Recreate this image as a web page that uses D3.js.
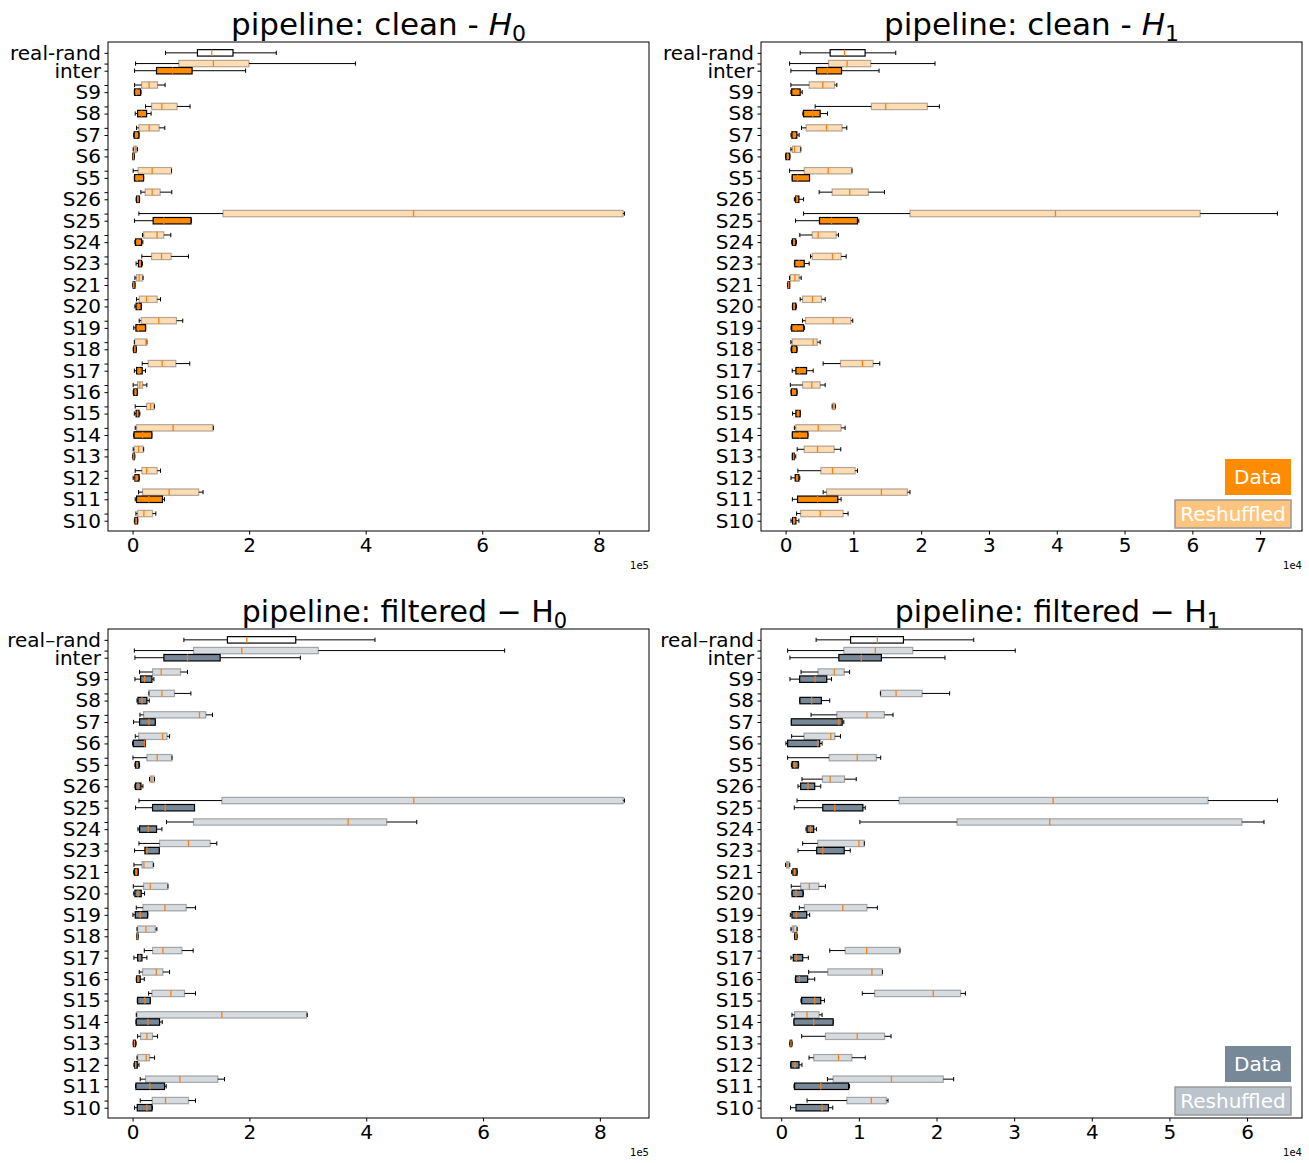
<!DOCTYPE html>
<html><head><meta charset="utf-8">
<script src="https://cdn.jsdelivr.net/npm/d3@7/dist/d3.min.js"></script>
<style>body{margin:0;background:#fff} text{font-family:"DejaVu Sans",sans-serif}</style>
</head><body><svg id="chart" width="1309" height="1163"></svg>
<script>
// categories, top to bottom (below the "real-rand" row)
const categories = ["inter","S9","S8","S7","S6","S5","S26","S25","S24","S23","S21","S20","S19","S18","S17","S16","S15","S14","S13","S12","S11","S10"];
const realRandLabel = "real-rand";
// each row: [whiskerLow, q1, median, q3, whiskerHigh] in axis units (x 1e5 or x 1e4)
const cleanH0RealRand = [0.565, 1.113, 1.358, 1.723, 2.466];
const cleanH0Data = [
 [0.034,0.411,0.685,1.021,1.94],[0.03,0.034,0.07,0.137,0.145],[0.045,0.086,0.154,0.24,0.318],[0.02,0.027,0.06,0.108,0.11],
 [0.0,0.003,0.012,0.025,0.028],[0.03,0.034,0.08,0.188,0.19],[0.06,0.07,0.09,0.115,0.12],[0.034,0.353,0.536,1.003,1.01],
 [0.04,0.05,0.09,0.154,0.176],[0.06,0.1,0.13,0.155,0.17],[0.005,0.01,0.02,0.04,0.04],[0.04,0.06,0.1,0.147,0.15],
 [0.02,0.057,0.1,0.222,0.225],[0.01,0.02,0.04,0.06,0.065],[0.03,0.068,0.11,0.165,0.222],[0.01,0.02,0.05,0.08,0.085],
 [0.03,0.06,0.085,0.11,0.125],[0.02,0.025,0.171,0.33,0.33],[0.005,0.01,0.02,0.03,0.04],[0.01,0.04,0.06,0.11,0.113],
 [0.045,0.068,0.279,0.513,0.548],[0.03,0.04,0.06,0.085,0.09]];
const cleanH0Reshuffled = [
 [0.051,0.793,1.387,1.997,3.824],[0.034,0.154,0.284,0.428,0.558],[0.222,0.325,0.502,0.764,0.986],[0.068,0.108,0.284,0.455,0.553],
 [0.01,0.02,0.05,0.07,0.085],[0.01,0.096,0.336,0.668,0.668],[0.142,0.216,0.336,0.473,0.673],[0.108,1.551,4.822,8.418,8.44],
 [0.17,0.19,0.421,0.536,0.656],[0.159,0.325,0.497,0.661,0.959],[0.04,0.068,0.113,0.171,0.18],[0.068,0.113,0.24,0.421,0.479],
 [0.113,0.147,0.45,0.753,0.861],[0.03,0.035,0.23,0.245,0.245],[0.165,0.268,0.507,0.742,0.981],[0.01,0.085,0.125,0.171,0.245],
 [0.045,0.24,0.308,0.37,0.375],[0.045,0.068,0.696,1.381,1.385],[0.01,0.03,0.103,0.182,0.19],[0.045,0.159,0.24,0.421,0.479],
 [0.103,0.171,0.627,1.135,1.209],[0.057,0.085,0.194,0.342,0.399]];

const cleanH1RealRand = [0.215, 0.657, 0.869, 1.173, 1.625];
const cleanH1Data = [
 [0.078,0.456,0.618,0.825,1.379],[0.078,0.09,0.152,0.215,0.245],[0.255,0.265,0.398,0.51,0.618],[0.08,0.093,0.127,0.166,0.2],
 [0.0,0.005,0.03,0.06,0.065],[0.098,0.098,0.177,0.353,0.353],[0.13,0.15,0.166,0.196,0.265],[0.147,0.5,0.677,1.06,1.08],
 [0.09,0.1,0.12,0.15,0.16],[0.13,0.135,0.2,0.275,0.348],[0.03,0.035,0.045,0.06,0.06],[0.1,0.105,0.125,0.15,0.16],
 [0.08,0.09,0.15,0.265,0.28],[0.08,0.09,0.12,0.165,0.17],[0.098,0.152,0.206,0.309,0.407],[0.08,0.085,0.11,0.166,0.17],
 [0.103,0.152,0.186,0.215,0.215],[0.1,0.1,0.21,0.328,0.33],[0.1,0.1,0.12,0.13,0.15],[0.08,0.142,0.17,0.196,0.21],
 [0.1,0.177,0.471,0.77,0.819],[0.08,0.103,0.12,0.152,0.196]];
const cleanH1Reshuffled = [
 [0.059,0.633,0.908,1.256,2.204],[0.078,0.348,0.549,0.722,0.756],[0.436,1.266,1.477,2.091,2.268],[0.235,0.304,0.604,0.834,0.903],
 [0.078,0.1,0.132,0.221,0.225],[0.059,0.275,0.628,0.977,0.98],[0.495,0.687,0.947,1.222,1.458],[0.265,1.835,3.981,6.116,7.255],
 [0.21,0.392,0.481,0.746,0.78],[0.368,0.392,0.692,0.819,0.893],[0.058,0.07,0.137,0.2,0.23],[0.215,0.25,0.397,0.53,0.584],
 [0.25,0.294,0.701,0.962,0.991],[0.078,0.098,0.407,0.466,0.51],[0.554,0.81,1.134,1.291,1.389],[0.07,0.25,0.387,0.51,0.584],
 [0.687,0.69,0.71,0.73,0.735],[0.13,0.15,0.481,0.819,0.878],[0.171,0.275,0.471,0.716,0.814],[0.181,0.52,0.692,1.026,1.06],
 [0.554,0.604,1.414,1.797,1.835],[0.162,0.221,0.51,0.849,0.922]];

const filteredH0RealRand = [0.878, 1.624, 1.955, 2.793, 4.15];
const filteredH0Data = [
 [0.04,0.536,0.94,1.499,2.872],[0.04,0.137,0.205,0.331,0.365],[0.075,0.092,0.16,0.245,0.285],[0.017,0.12,0.28,0.388,0.39],
 [0.0,0.012,0.205,0.217,0.217],[0.04,0.05,0.08,0.11,0.12],[0.04,0.05,0.092,0.143,0.177],[0.051,0.342,0.559,1.06,1.06],
 [0.092,0.12,0.268,0.41,0.502],[0.034,0.211,0.245,0.456,0.456],[0.02,0.03,0.063,0.097,0.1],[0.02,0.04,0.092,0.148,0.205],
 [0.006,0.046,0.131,0.257,0.26],[0.07,0.075,0.08,0.09,0.095],[0.023,0.086,0.12,0.16,0.245],[0.063,0.07,0.092,0.131,0.2],
 [0.08,0.086,0.211,0.302,0.305],[0.058,0.063,0.262,0.462,0.508],[0.01,0.015,0.03,0.05,0.06],[0.023,0.035,0.05,0.08,0.11],
 [0.051,0.058,0.297,0.547,0.576],[0.034,0.08,0.245,0.331,0.34]];
const filteredH0Reshuffled = [
 [0.029,1.043,1.87,3.18,6.37],[0.12,0.342,0.49,0.821,0.94],[0.28,0.28,0.502,0.718,0.998],[0.126,0.188,1.145,1.254,1.368],
 [0.046,0.103,0.513,0.588,0.633],[0.006,0.245,0.422,0.673,0.675],[0.29,0.3,0.331,0.37,0.375],[0.109,1.528,4.815,8.4,8.42],
 [0.581,1.043,3.69,4.35,4.865],[0.109,0.462,0.957,1.328,1.442],[0.023,0.16,0.194,0.348,0.36],[0.012,0.188,0.302,0.604,0.605],
 [0.063,0.177,0.553,0.918,1.077],[0.075,0.086,0.228,0.388,0.416],[0.2,0.342,0.519,0.844,1.037],[0.114,0.171,0.405,0.519,0.633],
 [0.274,0.331,0.656,0.889,1.077],[0.063,0.075,1.528,2.981,2.99],[0.086,0.137,0.245,0.342,0.427],[0.075,0.086,0.234,0.291,0.376],
 [0.131,0.222,0.81,1.459,1.573],[0.131,0.336,0.564,0.957,1.077]];

const filteredH1RealRand = [0.449, 0.893, 1.238, 1.574, 2.48];
const filteredH1Data = [
 [0.112,0.742,1.031,1.29,2.109],[0.112,0.237,0.436,0.586,0.647],[0.237,0.24,0.392,0.517,0.625],[0.13,0.13,0.742,0.785,0.806],
 [0.06,0.082,0.47,0.496,0.526],[0.13,0.14,0.172,0.22,0.225],[0.216,0.25,0.345,0.431,0.509],[0.168,0.535,0.69,1.052,1.082],
 [0.319,0.332,0.375,0.418,0.453],[0.216,0.457,0.535,0.811,0.889],[0.134,0.15,0.168,0.203,0.205],[0.138,0.14,0.19,0.28,0.285],
 [0.117,0.138,0.194,0.328,0.366],[0.17,0.175,0.19,0.2,0.205],[0.125,0.155,0.194,0.276,0.349],[0.181,0.185,0.233,0.34,0.431],
 [0.254,0.263,0.431,0.509,0.556],[0.164,0.164,0.418,0.668,0.67],[0.11,0.115,0.125,0.135,0.14],[0.12,0.125,0.177,0.229,0.267],
 [0.164,0.172,0.509,0.867,0.88],[0.12,0.19,0.526,0.608,0.664]];
const filteredH1Reshuffled = [
 [0.082,0.806,1.212,1.695,3.014],[0.255,0.475,0.682,0.811,0.88],[1.277,1.28,1.479,1.815,2.169],[0.384,0.716,1.104,1.328,1.44],
 [0.134,0.293,0.638,0.69,0.763],[0.082,0.617,0.979,1.225,1.281],[0.267,0.53,0.63,0.815,0.966],[0.203,1.518,3.502,5.498,6.391],
 [1.013,2.264,3.458,5.934,6.218],[0.276,0.47,1.0,1.07,1.07],[0.056,0.07,0.078,0.1,0.11],[0.129,0.25,0.362,0.483,0.569],
 [0.233,0.298,0.793,1.104,1.238],[0.125,0.14,0.16,0.2,0.205],[0.625,0.824,1.1,1.527,1.53],[0.353,0.599,1.168,1.302,1.305],
 [1.044,1.203,1.958,2.311,2.372],[0.138,0.172,0.332,0.487,0.526],[0.263,0.569,0.979,1.332,1.414],[0.358,0.418,0.737,0.91,1.082],
 [0.595,0.668,1.419,2.087,2.221],[0.332,0.845,1.16,1.354,1.375]];

const ticksH0 = [0,2,4,6,8];
const ticksCleanH1 = [0,1,2,3,4,5,6,7];
const ticksFilteredH1 = [0,1,2,3,4,5,6];
const legendLabels = ["Data","Reshuffled"];

const panels = [
 {pipe:"clean", sub:"0", italic:true, px:108, py:42, real:cleanH0RealRand, data:cleanH0Data, resh:cleanH0Reshuffled, ticks:ticksH0, exp:"1e5", color:"#ff8c00", legend:false},
 {pipe:"clean", sub:"1", italic:true, px:761, py:42, real:cleanH1RealRand, data:cleanH1Data, resh:cleanH1Reshuffled, ticks:ticksCleanH1, exp:"1e4", color:"#ff8c00", legend:true},
 {pipe:"filtered", sub:"0", italic:false, px:108, py:629, real:filteredH0RealRand, data:filteredH0Data, resh:filteredH0Reshuffled, ticks:ticksH0, exp:"1e5", color:"#778899", legend:false},
 {pipe:"filtered", sub:"1", italic:false, px:761, py:629, real:filteredH1RealRand, data:filteredH1Data, resh:filteredH1Reshuffled, ticks:ticksFilteredH1, exp:"1e4", color:"#778899", legend:true}
];

const svg = d3.select("#chart");
const W = 541, H = 489, BOXH = 0.9, CAP = 0.3;

function drawBox(g, x, y, s, pos, fill, fillOp, edge) {
  const [wl, q1, med, q3, wh] = s;
  const yc = y(pos);
  const bg = g.append("g");
  bg.append("line").attr("x1", x(wl)).attr("x2", x(q1)).attr("y1", yc).attr("y2", yc).attr("stroke", "#000").attr("stroke-width", 1);
  bg.append("line").attr("x1", x(q3)).attr("x2", x(wh)).attr("y1", yc).attr("y2", yc).attr("stroke", "#000").attr("stroke-width", 1);
  [wl, wh].forEach(v => bg.append("line").attr("x1", x(v)).attr("x2", x(v))
     .attr("y1", y(pos + CAP)).attr("y2", y(pos - CAP)).attr("stroke", "#000").attr("stroke-width", 1));
  bg.append("rect").attr("x", x(q1)).attr("width", Math.max(0.5, x(q3) - x(q1)))
    .attr("y", y(pos + BOXH / 2)).attr("height", y(pos - BOXH / 2) - y(pos + BOXH / 2))
    .attr("fill", fill).attr("fill-opacity", fillOp).attr("stroke", edge).attr("stroke-width", 1.2);
  bg.append("line").attr("x1", x(med)).attr("x2", x(med))
    .attr("y1", y(pos + BOXH / 2)).attr("y2", y(pos - BOXH / 2)).attr("stroke", "#ff7f0e").attr("stroke-width", 1.3);
}

panels.forEach(p => {
  const g = svg.append("g").attr("transform", `translate(${p.px},${p.py})`);
  const all = [p.real, ...p.data, ...p.resh].flat();
  const lo = d3.min(all), hi = d3.max(all), pad = (hi - lo) * 0.05;
  const x = d3.scaleLinear().domain([lo - pad, hi + pad]).range([0, W]);
  const y = d3.scaleLinear().domain([-1.44, 67.02]).range([H, 0]);
  const n = categories.length;
  const realPos = 3 * (n - 1) + 2.5;

  const plot = g.append("g");
  categories.forEach((c, i) => {
    const k = n - 1 - i;
    drawBox(plot, x, y, p.data[i], 3 * k, p.color, 1, "#000");
    drawBox(plot, x, y, p.resh[i], 3 * k + 1, p.color, 0.3, "rgba(0,0,0,0.3)");
  });
  drawBox(plot, x, y, p.real, realPos, "#fff", 1, "#000");

  // y axis
  const tickVals = [realPos];
  const labelMap = new Map([[realPos, p.pipe === "filtered" ? realRandLabel.replace("-", "\u2013") : realRandLabel]]);
  categories.forEach((c, i) => { const k = n - 1 - i; tickVals.push(3 * k + 1, 3 * k); labelMap.set(3 * k, c); });
  const ya = g.append("g").call(d3.axisLeft(y).tickValues(tickVals).tickFormat(v => labelMap.get(v) || "").tickSize(3.5).tickPadding(3.5));
  ya.select(".domain").remove();
  ya.selectAll("text").attr("font-size", 20).attr("fill", "#000").style("font-family", '"DejaVu Sans",sans-serif');
  ya.selectAll("line").attr("stroke", "#000");

  // x axis
  const xa = g.append("g").attr("transform", `translate(0,${H})`)
    .call(d3.axisBottom(x).tickValues(p.ticks).tickFormat(d3.format("d")).tickSize(3.5).tickPadding(3.5));
  xa.select(".domain").remove();
  xa.selectAll("text").attr("font-size", 20).attr("fill", "#000").style("font-family", '"DejaVu Sans",sans-serif');
  xa.selectAll("line").attr("stroke", "#000");
  g.append("text").attr("x", W).attr("y", H + 38).attr("text-anchor", "end").attr("font-size", 10).text(p.exp);

  // frame
  g.append("rect").attr("width", W).attr("height", H).attr("fill", "none").attr("stroke", "#000").attr("stroke-width", 1);

  // title
  if (p.italic) {
    const t = g.append("text").attr("x", W / 2).attr("y", -7).attr("text-anchor", "middle").attr("font-size", 31);
    t.append("tspan").text("pipeline: clean -  ");
    t.append("tspan").attr("font-style", "italic").text("H");
    t.append("tspan").attr("font-size", 22).attr("dy", 6).text(p.sub);
  } else {
    const t = g.append("text").attr("x", W / 2 + 26).attr("y", -7).attr("text-anchor", "middle").attr("font-size", 30);
    t.append("tspan").text("pipeline: filtered \u2212 H");
    t.append("tspan").attr("font-size", 21).attr("dy", 6).text(p.sub);
  }

  if (p.legend) {
    const lg = g.append("g");
    lg.append("rect").attr("x", W - 77).attr("y", H - 72).attr("width", 66).attr("height", 36).attr("fill", p.color);
    lg.append("text").attr("x", W - 44).attr("y", H - 47).attr("text-anchor", "middle").attr("font-size", 20).attr("fill", "#fff").text(legendLabels[0]);
    lg.append("rect").attr("x", W - 127).attr("y", H - 31).attr("width", 116).attr("height", 28)
      .attr("fill", p.color).attr("fill-opacity", 0.5).attr("stroke", "#999").attr("stroke-width", 1.5);
    lg.append("text").attr("x", W - 69).attr("y", H - 10).attr("text-anchor", "middle").attr("font-size", 20).attr("fill", "#fff").text(legendLabels[1]);
  }
});
</script></body></html>
